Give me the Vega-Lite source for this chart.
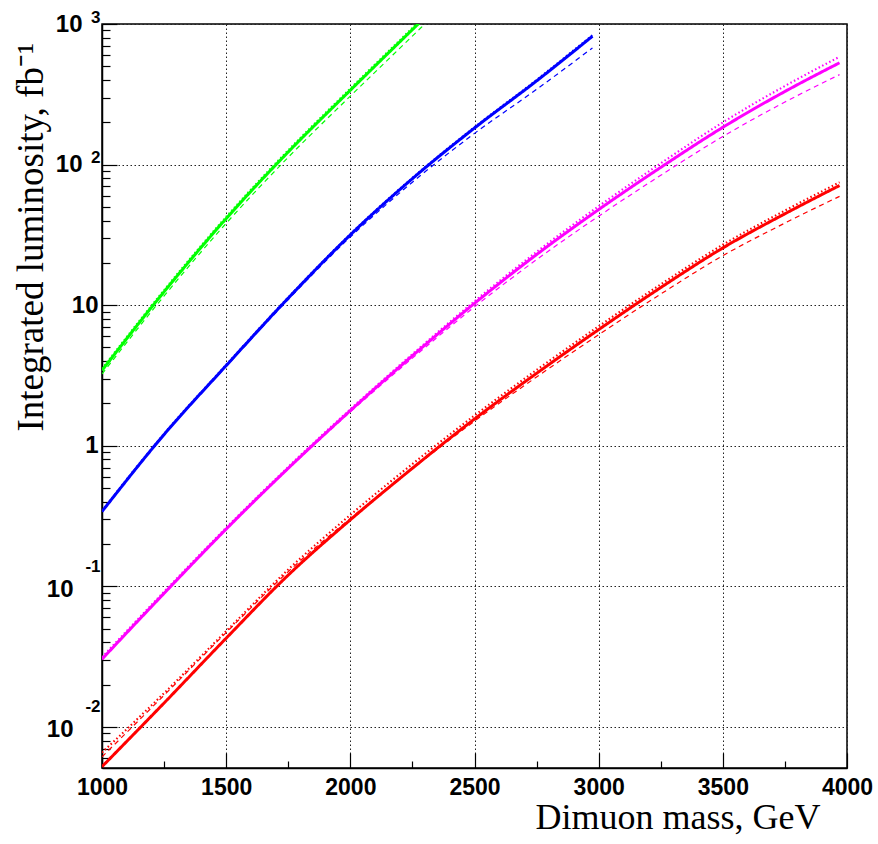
{
  "$schema": "https://vega.github.io/schema/vega-lite/v6.json",
  "width": 745,
  "height": 744,
  "autosize": "none",
  "padding": {"left": 102, "top": 24, "right": 31, "bottom": 76},
  "background": "white",
  "config": {
    "view": {"stroke": "black", "strokeWidth": 1.5},
    "axis": {"labelColor": "black", "tickColor": "black", "domainColor": "black", "titleColor": "black"}
  },
  "data": {"values": [
    {"m":1000,"L":3.436,"s":"g","k":"solid"},{"m":1250,"L":12.45,"s":"g","k":"solid"},{"m":1500,"L":41.3,"s":"g","k":"solid"},{"m":1750,"L":123.0,"s":"g","k":"solid"},{"m":2000,"L":338,"s":"g","k":"solid"},{"m":2273,"L":1000,"s":"g","k":"solid"},{"m":2300,"L":1113,"s":"g","k":"solid"},
    {"m":1000,"L":0.3404,"s":"b","k":"solid"},{"m":1250,"L":1.202,"s":"b","k":"solid"},{"m":1500,"L":3.715,"s":"b","k":"solid"},{"m":1750,"L":11.22,"s":"b","k":"solid"},{"m":2000,"L":31.62,"s":"b","k":"solid"},{"m":2250,"L":79.43,"s":"b","k":"solid"},{"m":2500,"L":182.0,"s":"b","k":"solid"},{"m":2750,"L":393.6,"s":"b","k":"solid"},{"m":2975,"L":818.5,"s":"b","k":"solid"},
    {"m":1000,"L":0.03034,"s":"m","k":"solid"},{"m":1250,"L":0.08913,"s":"m","k":"solid"},{"m":1500,"L":0.2553,"s":"m","k":"solid"},{"m":1750,"L":0.6918,"s":"m","k":"solid"},{"m":2000,"L":1.778,"s":"m","k":"solid"},{"m":2250,"L":4.365,"s":"m","k":"solid"},{"m":2500,"L":10.30,"s":"m","k":"solid"},{"m":2750,"L":22.91,"s":"m","k":"solid"},{"m":3000,"L":47.86,"s":"m","k":"solid"},{"m":3250,"L":95.5,"s":"m","k":"solid"},{"m":3500,"L":184.1,"s":"m","k":"solid"},{"m":3750,"L":331.1,"s":"m","k":"solid"},{"m":3970,"L":529.7,"s":"m","k":"solid"},
    {"m":1000,"L":0.005212,"s":"r","k":"solid"},{"m":1250,"L":0.01479,"s":"r","k":"solid"},{"m":1500,"L":0.04276,"s":"r","k":"solid"},{"m":1750,"L":0.1202,"s":"r","k":"solid"},{"m":2000,"L":0.2972,"s":"r","k":"solid"},{"m":2250,"L":0.6918,"s":"r","k":"solid"},{"m":2500,"L":1.549,"s":"r","k":"solid"},{"m":2750,"L":3.273,"s":"r","k":"solid"},{"m":3000,"L":6.699,"s":"r","k":"solid"},{"m":3250,"L":13.34,"s":"r","k":"solid"},{"m":3500,"L":25.53,"s":"r","k":"solid"},{"m":3750,"L":44.67,"s":"r","k":"solid"},{"m":3970,"L":70.96,"s":"r","k":"solid"},
    {"m":1000,"L":3.53,"s":"g","k":"dotted"},{"m":1250,"L":12.8,"s":"g","k":"dotted"},{"m":1500,"L":42.5,"s":"g","k":"dotted"},{"m":1750,"L":126.5,"s":"g","k":"dotted"},{"m":2000,"L":347.5,"s":"g","k":"dotted"},{"m":2273,"L":1028,"s":"g","k":"dotted"},{"m":2300,"L":1145,"s":"g","k":"dotted"},
    {"m":1000,"L":3.24,"s":"g","k":"dashed"},{"m":1250,"L":11.62,"s":"g","k":"dashed"},{"m":1500,"L":38.2,"s":"g","k":"dashed"},{"m":1750,"L":112.7,"s":"g","k":"dashed"},{"m":2000,"L":307,"s":"g","k":"dashed"},{"m":2273,"L":899,"s":"g","k":"dashed"},{"m":2300,"L":1000,"s":"g","k":"dashed"},{"m":2330,"L":1115,"s":"g","k":"dashed"},
    {"m":1000,"L":0.344,"s":"b","k":"dotted"},{"m":1250,"L":1.216,"s":"b","k":"dotted"},{"m":1500,"L":3.76,"s":"b","k":"dotted"},{"m":1750,"L":11.35,"s":"b","k":"dotted"},{"m":2000,"L":32.0,"s":"b","k":"dotted"},{"m":2250,"L":80.4,"s":"b","k":"dotted"},{"m":2500,"L":184.5,"s":"b","k":"dotted"},{"m":2750,"L":400,"s":"b","k":"dotted"},{"m":2975,"L":834,"s":"b","k":"dotted"},
    {"m":1000,"L":0.3404,"s":"b","k":"dashed"},{"m":1250,"L":1.196,"s":"b","k":"dashed"},{"m":1500,"L":3.673,"s":"b","k":"dashed"},{"m":1750,"L":10.96,"s":"b","k":"dashed"},{"m":2000,"L":30.55,"s":"b","k":"dashed"},{"m":2250,"L":74.97,"s":"b","k":"dashed"},{"m":2500,"L":166.7,"s":"b","k":"dashed"},{"m":2750,"L":342.8,"s":"b","k":"dashed"},{"m":2975,"L":676,"s":"b","k":"dashed"},
    {"m":1000,"L":0.03134,"s":"m","k":"dotted"},{"m":1250,"L":0.09162,"s":"m","k":"dotted"},{"m":1500,"L":0.2612,"s":"m","k":"dotted"},{"m":1750,"L":0.7077,"s":"m","k":"dotted"},{"m":2000,"L":1.819,"s":"m","k":"dotted"},{"m":2250,"L":4.487,"s":"m","k":"dotted"},{"m":2500,"L":10.66,"s":"m","k":"dotted"},{"m":2750,"L":23.94,"s":"m","k":"dotted"},{"m":3000,"L":50.59,"s":"m","k":"dotted"},{"m":3250,"L":102.1,"s":"m","k":"dotted"},{"m":3500,"L":199.6,"s":"m","k":"dotted"},{"m":3750,"L":362.2,"s":"m","k":"dotted"},{"m":3970,"L":584.8,"s":"m","k":"dotted"},
    {"m":1000,"L":0.03034,"s":"m","k":"dashed"},{"m":1250,"L":0.08913,"s":"m","k":"dashed"},{"m":1500,"L":0.2541,"s":"m","k":"dashed"},{"m":1750,"L":0.6839,"s":"m","k":"dashed"},{"m":2000,"L":1.737,"s":"m","k":"dashed"},{"m":2250,"L":4.197,"s":"m","k":"dashed"},{"m":2500,"L":9.72,"s":"m","k":"dashed"},{"m":2750,"L":21.08,"s":"m","k":"dashed"},{"m":3000,"L":42.95,"s":"m","k":"dashed"},{"m":3250,"L":83.9,"s":"m","k":"dashed"},{"m":3500,"L":158.5,"s":"m","k":"dashed"},{"m":3750,"L":278.5,"s":"m","k":"dashed"},{"m":3970,"L":436.5,"s":"m","k":"dashed"},
    {"m":1000,"L":0.006562,"s":"r","k":"dotted"},{"m":1250,"L":0.01738,"s":"r","k":"dotted"},{"m":1500,"L":0.04798,"s":"r","k":"dotted"},{"m":1750,"L":0.1317,"s":"r","k":"dotted"},{"m":2000,"L":0.3222,"s":"r","k":"dotted"},{"m":2250,"L":0.7416,"s":"r","k":"dotted"},{"m":2500,"L":1.640,"s":"r","k":"dotted"},{"m":2750,"L":3.460,"s":"r","k":"dotted"},{"m":3000,"L":7.081,"s":"r","k":"dotted"},{"m":3250,"L":14.06,"s":"r","k":"dotted"},{"m":3500,"L":26.91,"s":"r","k":"dotted"},{"m":3750,"L":47.08,"s":"r","k":"dotted"},{"m":3970,"L":74.79,"s":"r","k":"dotted"},
    {"m":1000,"L":0.006124,"s":"r","k":"dashed"},{"m":1250,"L":0.01679,"s":"r","k":"dashed"},{"m":1500,"L":0.04687,"s":"r","k":"dashed"},{"m":1750,"L":0.1273,"s":"r","k":"dashed"},{"m":2000,"L":0.3040,"s":"r","k":"dashed"},{"m":2250,"L":0.6870,"s":"r","k":"dashed"},{"m":2500,"L":1.496,"s":"r","k":"dashed"},{"m":2750,"L":3.083,"s":"r","k":"dashed"},{"m":3000,"L":6.166,"s":"r","k":"dashed"},{"m":3250,"L":12.0,"s":"r","k":"dashed"},{"m":3500,"L":22.49,"s":"r","k":"dashed"},{"m":3750,"L":38.37,"s":"r","k":"dashed"},{"m":3970,"L":59.43,"s":"r","k":"dashed"}
  ]},
  "layer": [
    {
      "mark": {"type": "line", "clip": true, "interpolate": "monotone"},
      "encoding": {
        "x": {"field": "m", "type": "quantitative",
          "scale": {"domain": [1000, 4000], "nice": false, "zero": false},
          "axis": {"orient": "bottom", "values": [1000,1500,2000,2500,3000,3500,4000], "format": "d",
            "grid": true, "gridColor": "#222", "gridDash": [1.5, 2.5], "gridWidth": 1,
            "tickSize": -15, "tickWidth": 1.2, "domainWidth": 1.5,
            "labelFont": "Liberation Sans", "labelFontWeight": "bold", "labelFontSize": 23,
            "labelPadding": 23, "labelFlush": false, "labelOverlap": false,
            "title": "Dimuon mass, GeV", "titleFont": "Liberation Serif", "titleFontWeight": "normal", "titleFontSize": 36,
            "titleX": 718, "titleY": 60, "titleAlign": "right", "titleBaseline": "alphabetic"}},
        "y": {"field": "L", "type": "quantitative",
          "scale": {"type": "log", "domain": [0.0051, 1000], "nice": false},
          "axis": {"orient": "left", "values": [0.01, 0.1, 1, 10, 100, 1000],
            "labelExpr": "datum.value >= 0.9 && datum.value <= 1.1 ? '1' : '10'",
            "labelPadding": {"expr": "datum.value >= 0.9 && datum.value <= 11 ? 19 : (datum.value < 0.5 ? 44 : 35)"},
            "labelOffset": {"expr": "datum.value < 0.5 ? 3 : 0"},
            "grid": true, "gridColor": "#222", "gridDash": [1.5, 2.5], "gridWidth": 1,
            "tickSize": -15, "tickWidth": 1.2, "domainWidth": 1.5,
            "labelFont": "Liberation Sans", "labelFontWeight": "bold", "labelFontSize": 24,
            "labelOverlap": false, "labelFlush": false,
            "title": "Integrated luminosity, fb⁻¹", "titleFont": "Liberation Serif", "titleFontWeight": "normal", "titleFontSize": 37,
            "titleAngle": 270, "titleX": -60, "titleY": 407, "titleAlign": "left", "titleBaseline": "alphabetic"}},
        "color": {"field": "s", "type": "nominal",
          "scale": {"domain": ["g", "b", "m", "r"], "range": ["#00ff00", "#0000ff", "#ff00ff", "#ff0000"]}, "legend": null},
        "strokeDash": {"field": "k", "type": "nominal",
          "scale": {"domain": ["solid", "dotted", "dashed"], "range": [[1, 0], [1.5, 2.5], [5, 4]]}, "legend": null},
        "strokeWidth": {"field": "k", "type": "ordinal",
          "scale": {"domain": ["solid", "dotted", "dashed"], "range": [3, 1.2, 1.2]}, "legend": null}
      }
    },
    {
      "mark": {"type": "point", "opacity": 0},
      "encoding": {
        "x": {"field": "m", "type": "quantitative",
          "axis": {"orient": "bottom", "values": [1250,1750,2250,2750,3250,3750], "labels": false, "grid": false, "domain": false,
            "tickSize": -7, "tickWidth": 1.2, "title": null}},
        "y": {"field": "L", "type": "quantitative",
          "axis": {"orient": "left", "values": [0.006,0.007,0.008,0.009,0.02,0.03,0.04,0.05,0.06,0.07,0.08,0.09,0.2,0.3,0.4,0.5,0.6,0.7,0.8,0.9,2,3,4,5,6,7,8,9,20,30,40,50,60,70,80,90,200,300,400,500,600,700,800,900],
            "labels": false, "grid": false, "domain": false, "tickSize": -8, "tickWidth": 1.2, "title": null}}
      }
    },
    {
      "mark": {"type": "point", "opacity": 0},
      "encoding": {
        "x": {"field": "m", "type": "quantitative", "axis": null},
        "y": {"field": "L", "type": "quantitative",
          "axis": {"orient": "left", "values": [0.01, 0.1, 100, 1000],
            "labelExpr": "datum.value >= 999 ? '3' : datum.value >= 99 ? '2' : datum.value >= 0.09 ? '-1' : '-2'",
            "labelOffset": {"expr": "datum.value < 0.5 ? -20 : -7"},
            "labelFont": "Liberation Sans", "labelFontWeight": "bold", "labelFontSize": 17,
            "labelPadding": 2, "ticks": false, "tickSize": 0, "grid": false, "domain": false,
            "labelOverlap": false, "labelFlush": false, "title": null}}
      }
    }
  ],
  "resolve": {"axis": {"x": "independent", "y": "independent"}}
}
